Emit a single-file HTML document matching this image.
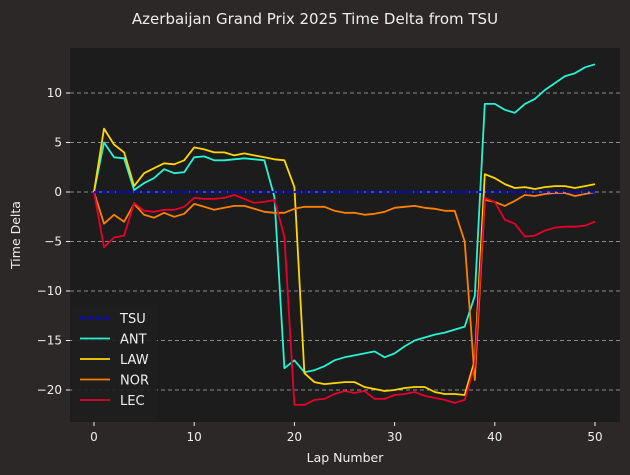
<!DOCTYPE html>
<html><head><meta charset="utf-8"><style>
body{margin:0;background:#2b2827;}
svg{display:block;font-family:"DejaVu Sans","Liberation Sans",sans-serif;}
</style></head><body>
<svg id="chart" width="630" height="475" xmlns="http://www.w3.org/2000/svg">
<rect x="0" y="0" width="630" height="475" fill="#2b2827"/>
<text x="315" y="24" fill="#eeeeee" font-size="15" text-anchor="middle">Azerbaijan Grand Prix 2025 Time Delta from TSU</text>
<rect x="70" y="48" width="550" height="374" fill="#1c1c1c"/>
<g id="grid"></g><g id="axes"></g><g id="series"></g>
<text x="345" y="462" fill="#eeeeee" font-size="12.5" text-anchor="middle">Lap Number</text>
<text x="20" y="235" fill="#eeeeee" font-size="12.5" text-anchor="middle" transform="rotate(-90 20 235)">Time Delta</text>
<g id="legend"></g>
</svg>
<script>
const laps = Array.from({length:51},(_,i)=>i);
const xTicks = [0,10,20,30,40,50];
const yTicks = [10,5,0,-5,-10,-15,-20];
const drivers = ['TSU','ANT','LAW','NOR','LEC'];
const colors = ['#0000ff','#27f4d2','#ffd700','#ff8000','#e8002d'];
const TSU = laps.map(()=>0);
const ANT = [0,5.0,3.5,3.4,0.2,0.9,1.4,2.3,1.9,2.0,3.5,3.6,3.2,3.2,3.3,3.4,3.3,3.2,-0.5,-17.8,-17.0,-18.2,-18.0,-17.6,-17.0,-16.7,-16.5,-16.3,-16.1,-16.7,-16.3,-15.6,-15.0,-14.7,-14.4,-14.2,-13.9,-13.6,-10.5,8.9,8.9,8.3,8.0,8.9,9.4,10.3,11.0,11.7,12.0,12.6,12.9];
const LAW = [0,6.4,4.8,4.0,0.6,1.9,2.4,2.9,2.8,3.2,4.5,4.3,4.0,4.0,3.7,3.9,3.7,3.5,3.3,3.2,0.5,-18.3,-19.2,-19.4,-19.3,-19.2,-19.2,-19.7,-19.9,-20.1,-20.0,-19.8,-19.7,-19.7,-20.2,-20.4,-20.4,-20.5,-17.0,1.8,1.4,0.8,0.4,0.5,0.3,0.5,0.6,0.6,0.4,0.6,0.8];
const NOR = [0,-3.2,-2.3,-3.0,-1.2,-2.3,-2.6,-2.1,-2.5,-2.2,-1.2,-1.5,-1.8,-1.6,-1.4,-1.4,-1.7,-2.0,-2.1,-2.1,-1.7,-1.5,-1.5,-1.5,-1.9,-2.1,-2.1,-2.3,-2.2,-2.0,-1.6,-1.5,-1.4,-1.6,-1.7,-1.9,-1.9,-5.0,-19.0,-0.8,-1.0,-1.4,-0.9,-0.3,-0.4,-0.2,-0.1,-0.1,-0.4,-0.2,0];
const LEC = [0,-5.6,-4.6,-4.4,-1.1,-1.9,-2.0,-1.8,-1.8,-1.5,-0.6,-0.7,-0.7,-0.6,-0.3,-0.7,-1.1,-1.0,-0.8,-4.5,-21.5,-21.5,-21.0,-20.9,-20.4,-20.1,-20.3,-20.1,-20.9,-20.9,-20.5,-20.4,-20.2,-20.6,-20.8,-21.0,-21.3,-21.0,-17.5,-0.6,-1.0,-2.8,-3.2,-4.5,-4.4,-3.9,-3.6,-3.5,-3.5,-3.4,-3.0];
const seriesData = [TSU,ANT,LAW,NOR,LEC];
const NS='http://www.w3.org/2000/svg';
const xS = v => 94 + v*10.02;
const yS = v => 192 - v*9.9;
function mk(tag,attrs,parent){const e=document.createElementNS(NS,tag);for(const k in attrs)e.setAttribute(k,attrs[k]);parent.appendChild(e);return e;}
const grid=document.getElementById('grid'), axes=document.getElementById('axes'), ser=document.getElementById('series'), leg=document.getElementById('legend');
yTicks.forEach(t=>{
  const l=mk('line',{x1:70,x2:620,y1:yS(t),y2:yS(t),stroke:'#8a8a8a','stroke-dasharray':'4,3','stroke-width':1},grid);
  
  
  const tk=mk('line',{x1:66,x2:70,y1:yS(t),y2:yS(t),stroke:'#eeeeee'},axes);
  
  
  const tx=mk('text',{x:62,y:yS(t)+4,fill:'#eeeeee','font-size':12,'text-anchor':'end'},axes);
  tx.textContent=(t<0?'\u2212'+(-t):String(t));
  
  
});
xTicks.forEach(t=>{
  const tk=mk('line',{x1:xS(t),x2:xS(t),y1:422,y2:426,stroke:'#eeeeee'},axes);
  
  
  const tx=mk('text',{x:xS(t),y:441,fill:'#eeeeee','font-size':12,'text-anchor':'middle'},axes);
  tx.textContent=String(t);
  
  
});
const order=[1,2,3,4,0];
order.forEach(i=>{
  const pts=seriesData[i].map((v,j)=>xS(laps[j]).toFixed(1)+','+yS(v).toFixed(1)).join(' ');
  const p=mk('polyline',{points:pts,fill:'none',stroke:colors[i],'stroke-width':1.8,'stroke-linejoin':'round'},ser);
  if(i===0)p.setAttribute('stroke-dasharray','5,3');
  
  
});
const lb=mk('rect',{x:72,y:305,width:85,height:116,fill:'#1f1f1f',opacity:0.9},leg);


drivers.forEach((d,i)=>{
  const y=318+i*20.5;
  const l=mk('line',{x1:80,x2:110,y1:y,y2:y,stroke:colors[i],'stroke-width':1.8},leg);
  if(i===0)l.setAttribute('stroke-dasharray','5,3');
  
  
  const t=mk('text',{x:120,y:y+5,fill:'#eeeeee','font-size':13},leg);
  t.textContent=d;
  
  
});
</script>
</body></html>
